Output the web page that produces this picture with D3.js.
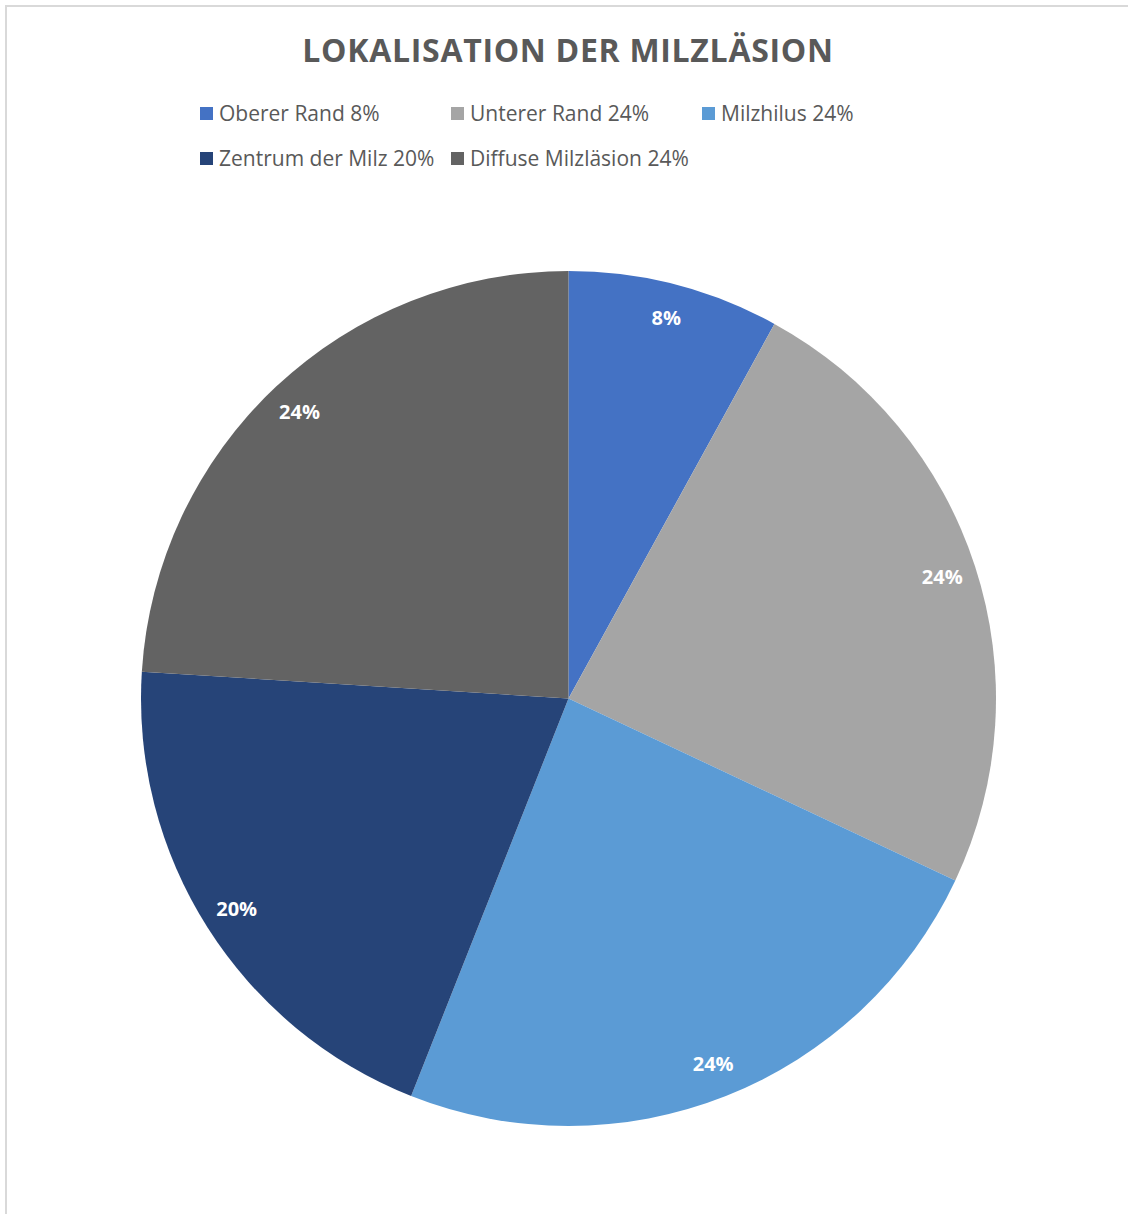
<!DOCTYPE html>
<html>
<head>
<meta charset="utf-8">
<script src="https://cdn.jsdelivr.net/npm/d3@7"></script>
<style>
  html, body { margin: 0; padding: 0; background: #ffffff; }
  svg { display: block; }
</style>
</head>
<body>
<svg id="chart" width="1128" height="1214"></svg>
<script>
// Location of the spleen lesion, share of cases in percent
const categories = ["Oberer Rand", "Unterer Rand", "Milzhilus", "Zentrum der Milz", "Diffuse Milzläsion"];
const values = [8, 24, 24, 20, 24];
const colors = ["#4472C4", "#A5A5A5", "#5B9BD5", "#264478", "#636363"];
const title = "LOKALISATION DER MILZLÄSION";

const W = 1128, H = 1214;
const font = "'Open Sans', 'Noto Sans', sans-serif";
const textColor = "#595959";

const svg = d3.select("#chart");

// chart frame
svg.append("rect")
  .attr("x", 6).attr("y", 6)
  .attr("width", W + 20).attr("height", H + 20)
  .attr("fill", "#ffffff")
  .attr("stroke", "#d9d9d9")
  .attr("stroke-width", 2);

// title
svg.append("text")
  .attr("x", 568).attr("y", 62)
  .attr("text-anchor", "middle")
  .attr("font-family", font)
  .attr("font-weight", 700)
  .attr("font-size", 32)
  .attr("letter-spacing", 0.7)
  .attr("fill", textColor)
  .text(title);

// legend: three columns, two rows
const legendCols = [200, 451, 702];
const legendRows = [107, 152];
const legend = svg.append("g");
categories.forEach((c, i) => {
  const x = legendCols[i % 3];
  const y = legendRows[Math.floor(i / 3)];
  const g = legend.append("g").attr("transform", `translate(${x},${y})`);
  g.append("rect").attr("width", 13).attr("height", 13).attr("fill", colors[i]);
  g.append("text")
    .attr("x", 19).attr("y", 14)
    .attr("font-family", font)
    .attr("font-size", 21)
    .attr("fill", textColor)
    .text(`${c} ${values[i]}%`);
});

// pie
const cx = 568.5, cy = 698.5, R = 427.5;
const pie = d3.pie().sort(null).value(d => d)(values);
const arc = d3.arc().innerRadius(0).outerRadius(R);
const labelArc = d3.arc().innerRadius(393).outerRadius(393);

const gPie = svg.append("g").attr("transform", `translate(${cx},${cy})`);
gPie.selectAll("path")
  .data(pie)
  .join("path")
  .attr("d", arc)
  .attr("fill", (d, i) => colors[i]);

gPie.selectAll("text")
  .data(pie)
  .join("text")
  .attr("transform", d => `translate(${labelArc.centroid(d)})`)
  .attr("text-anchor", "middle")
  .attr("dy", "0.35em")
  .attr("font-family", font)
  .attr("font-weight", 700)
  .attr("font-size", 20)
  .attr("fill", "#ffffff")
  .text(d => `${d.data}%`);
</script>
</body>
</html>
